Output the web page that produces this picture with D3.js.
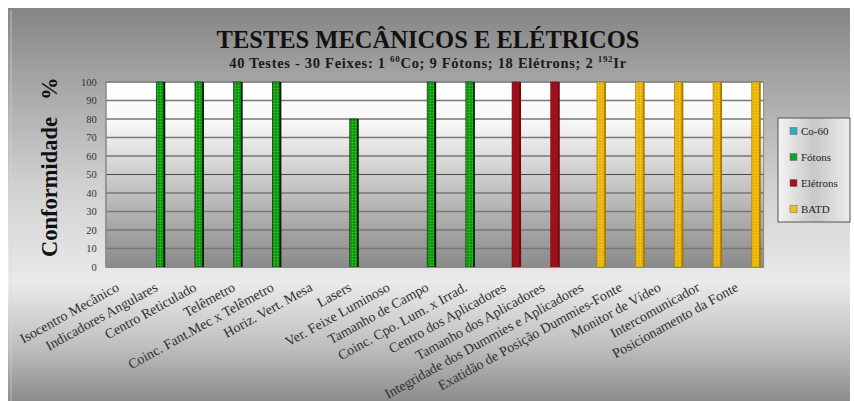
<!DOCTYPE html>
<html>
<head>
<meta charset="utf-8">
<script src="https://cdn.jsdelivr.net/npm/d3@7"></script>
<style>
  html, body { margin: 0; padding: 0; background: #fff; }
  svg { display: block; }
</style>
</head>
<body>
<svg id="chart" width="854" height="401"></svg>
<script>
// Test categories (x axis)
const categories = [
  "Isocentro Mecânico",
  "Indicadores Angulares",
  "Centro Reticulado",
  "Telêmetro",
  "Coinc. Fant.Mec x Telêmetro",
  "Horiz. Vert. Mesa",
  "Lasers",
  "Ver. Feixe Luminoso",
  "Tamanho de Campo",
  "Coinc. Cpo. Lum. x Irrad.",
  "Centro dos Aplicadores",
  "Tamanho dos Aplicadores",
  "Integridade dos Dummies e Aplicadores",
  "Exatidão de Posição Dummies-Fonte",
  "Monitor de Vídeo",
  "Intercomunicador",
  "Posicionamento da Fonte"
];

// Series names (legend order)
const seriesNames = ["Co-60", "Fótons", "Elétrons", "BATD"];

// Conformity (%) per category; null = not applicable
const co60     = [null, null, null, null, null, null, null, null, null, null, null, null, null, null, null, null, null];
const fotons   = [null, 100, 100, 100, 100, null, 80, null, 100, 100, null, null, null, null, null, null, null];
const eletrons = [null, null, null, null, null, null, null, null, null, null, 100, 100, null, null, null, null, null];
const batd     = [null, null, null, null, null, null, null, null, null, null, null, null, 100, 100, 100, 100, 100];

const yTicks = [0, 10, 20, 30, 40, 50, 60, 70, 80, 90, 100];

const seriesValues = [co60, fotons, eletrons, batd];

const SERIF = "'Liberation Serif', 'Times New Roman', serif";
const W = 854, H = 401;
const plot = { left: 105.7, right: 763.6, top: 82, bottom: 267 };

const svg = d3.select("#chart").attr("font-family", SERIF);
const defs = svg.append("defs");

// Chart background gradient
const bg = defs.append("linearGradient").attr("id", "bgGrad")
  .attr("x1", 0).attr("y1", 0).attr("x2", 0).attr("y2", 1);
[[0, "#858585"], [0.18, "#a4a4a4"], [0.45, "#d0d0d0"], [0.7, "#eaeaea"], [0.86, "#bfbfbf"], [1, "#8c8c8c"]]
  .forEach(([o, c]) => bg.append("stop").attr("offset", o).attr("stop-color", c));

// Plot area gradient
const pg = defs.append("linearGradient").attr("id", "plotGrad")
  .attr("x1", 0).attr("y1", 0).attr("x2", 0).attr("y2", 1);
[[0, "#ffffff"], [0.22, "#f7f7f7"], [0.5, "#cdcdcd"], [1, "#8a8a8a"]]
  .forEach(([o, c]) => pg.append("stop").attr("offset", o).attr("stop-color", c));

// Legend gradient
const lg = defs.append("linearGradient").attr("id", "legGrad")
  .attr("x1", 0).attr("y1", 0).attr("x2", 1).attr("y2", 0);
[[0, "#f4f4f4"], [0.5, "#c8c8c8"], [1, "#ececec"]]
  .forEach(([o, c]) => lg.append("stop").attr("offset", o).attr("stop-color", c));

// Dotted bar textures
function dotPattern(id, base, dot) {
  const p = defs.append("pattern").attr("id", id)
    .attr("width", 3).attr("height", 3).attr("patternUnits", "userSpaceOnUse");
  p.append("rect").attr("width", 3).attr("height", 3).attr("fill", base);
  p.append("rect").attr("x", 0.5).attr("y", 0.5).attr("width", 2).attr("height", 2).attr("fill", dot);
}
dotPattern("patCo", "#1f8c99", "#3fb8c4");
dotPattern("patFot", "#0b7d0b", "#27d027");
dotPattern("patEle", "#9a0d16", "#a8121c");
dotPattern("patBat", "#e0a800", "#fbcd22");

const seriesStyle = {
  "Co-60":    { fill: "url(#patCo)",  swatch: "#38a9b8", edge: "#135a62" },
  "Fótons":   { fill: "url(#patFot)", swatch: "#14a020", edge: "#021802" },
  "Elétrons": { fill: "url(#patEle)", swatch: "#a4101c", edge: "#6a0a10" },
  "BATD":     { fill: "url(#patBat)", swatch: "#f1c21e", edge: "#a87a00" }
};

// Background
svg.append("rect").attr("x", 8).attr("y", 8).attr("width", 842).attr("height", H - 8)
  .attr("fill", "url(#bgGrad)");
svg.append("line").attr("x1", 11).attr("x2", 11).attr("y1", 10).attr("y2", H)
  .attr("stroke", "#d8d8d8").attr("stroke-width", 1).attr("opacity", 0.6);

// Scales
const x = d3.scaleBand().domain(categories).range([plot.left, plot.right]).padding(0);
const xs = d3.scaleBand().domain(seriesNames).range([0, x.bandwidth()]).paddingInner(0).paddingOuter(0.58);
const y = d3.scaleLinear().domain([0, 100]).range([plot.bottom, plot.top]);

// Plot area
svg.append("rect")
  .attr("x", plot.left).attr("y", plot.top)
  .attr("width", plot.right - plot.left).attr("height", plot.bottom - plot.top)
  .attr("fill", "url(#plotGrad)");

// Gridlines
svg.append("g").selectAll("line").data(yTicks.filter(t => t > 0))
  .join("line")
  .attr("x1", plot.left).attr("x2", plot.right)
  .attr("y1", d => y(d)).attr("y2", d => y(d))
  .attr("stroke", d => d === 50 ? "#4a4a4a" : "#777")
  .attr("stroke-width", d => d === 50 ? 1 : 1.7);

// Plot frame
svg.append("rect")
  .attr("x", plot.left).attr("y", plot.top)
  .attr("width", plot.right - plot.left).attr("height", plot.bottom - plot.top)
  .attr("fill", "none").attr("stroke", "#8a8a8a").attr("stroke-width", 1);

// Bars
const barData = [];
seriesNames.forEach((s, si) => {
  seriesValues[si].forEach((v, ci) => {
    if (v !== null && v > 0) barData.push({ s, c: categories[ci], v });
  });
});

const bars = svg.append("g").selectAll("g").data(barData).join("g");
// dark side of the bar
bars.append("rect")
  .attr("x", d => x(d.c) + xs(d.s) + 1.5)
  .attr("y", d => y(d.v))
  .attr("width", xs.bandwidth())
  .attr("height", d => y(0) - y(d.v))
  .attr("fill", d => seriesStyle[d.s].edge);
bars.append("rect")
  .attr("x", d => x(d.c) + xs(d.s))
  .attr("y", d => y(d.v))
  .attr("width", xs.bandwidth())
  .attr("height", d => y(0) - y(d.v))
  .attr("fill", d => seriesStyle[d.s].fill)
  .attr("stroke", d => seriesStyle[d.s].edge)
  .attr("stroke-width", 0.6);

// Y axis
const yAxis = d3.axisLeft(y).tickValues(yTicks).tickSize(0).tickPadding(9);
const yg = svg.append("g").attr("transform", `translate(${plot.left},0)`).call(yAxis)
  .attr("font-family", SERIF);
yg.select(".domain").attr("stroke", "#8a8a8a");
yg.selectAll("text").attr("font-size", 10.5).attr("fill", "#333");

// X axis
const xAxis = d3.axisBottom(x).tickSize(0).tickPadding(0);
const xg = svg.append("g").attr("transform", `translate(0,${plot.bottom})`).call(xAxis)
  .attr("font-family", SERIF);
xg.select(".domain").attr("stroke", "#8a8a8a");
xg.selectAll(".tick text")
  .attr("font-size", 14).attr("fill", "#303030")
  .attr("text-anchor", "end")
  .attr("dy", 0)
  .attr("y", 0)
  .attr("transform", "translate(-5,23) rotate(-29)");

// Titles
svg.append("text").attr("x", 428).attr("y", 48).attr("text-anchor", "middle")
  .attr("font-size", 24.5).attr("font-weight", "bold").attr("fill", "#111")
  .text("TESTES MECÂNICOS E ELÉTRICOS");

const sub = svg.append("text").attr("x", 428).attr("y", 68).attr("text-anchor", "middle")
  .attr("font-size", 14.5).attr("font-weight", "bold").attr("fill", "#1a1a1a")
  .attr("letter-spacing", 0.7);
sub.append("tspan").text("40 Testes - 30 Feixes: 1 ");
sub.append("tspan").attr("font-size", 9).attr("dy", -6).text("60");
sub.append("tspan").attr("dy", 6).text("Co; 9 Fótons; 18 Elétrons; 2 ");
sub.append("tspan").attr("font-size", 9).attr("dy", -6).text("192");
sub.append("tspan").attr("dy", 6).text("Ir");

const yTitle = svg.append("text")
  .attr("transform", `translate(57,257) rotate(-90)`)
  .attr("text-anchor", "start")
  .attr("font-size", 22.5).attr("font-weight", "bold").attr("fill", "#111");
yTitle.append("tspan").text("Conformidade");
yTitle.append("tspan").attr("dx", 17).text("%");

// Legend
const leg = svg.append("g").attr("transform", "translate(778,118)");
leg.append("rect").attr("width", 72).attr("height", 104)
  .attr("fill", "url(#legGrad)").attr("stroke", "#555").attr("stroke-width", 1);
const li = leg.selectAll("g").data(seriesNames).join("g")
  .attr("transform", (d, i) => `translate(12,${13 + i * 26})`);
li.append("rect").attr("x", 0).attr("y", -3.5).attr("width", 7).attr("height", 7)
  .attr("fill", d => seriesStyle[d].swatch).attr("stroke", "#666").attr("stroke-width", 0.5);
li.append("text").attr("x", 11).attr("y", 0).attr("dy", "0.35em")
  .attr("font-size", 11).attr("fill", "#222").text(d => d);
</script>
</body>
</html>
